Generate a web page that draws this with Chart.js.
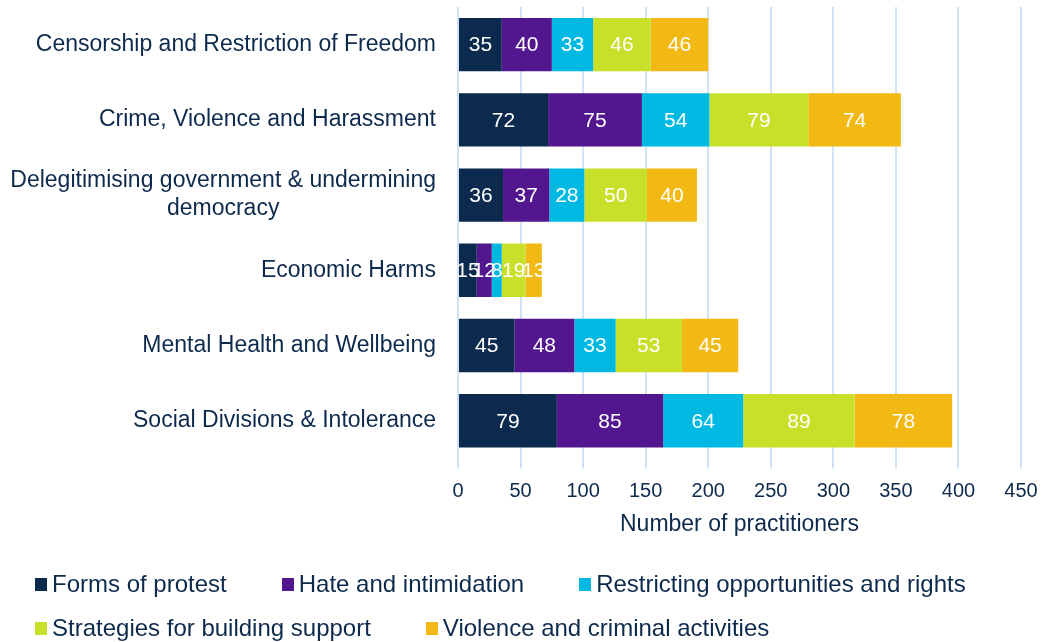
<!DOCTYPE html>
<html><head><meta charset="utf-8">
<script src="https://cdn.jsdelivr.net/npm/chart.js@4/dist/chart.umd.min.js"></script>
<style>
html,body{margin:0;padding:0;background:#fff}
#wrap{width:1053px;height:642px;position:relative;overflow:hidden}
#legend{position:absolute;left:35px;top:562px;width:1010px;display:flex;flex-wrap:wrap;column-gap:55px;font:24px 'Liberation Sans',Arial,sans-serif;color:#0d2a4d;line-height:44px;white-space:nowrap}
#legend .item{display:flex;align-items:center}
#legend .sw{display:inline-block;width:12px;height:13px;margin-right:5px}
</style>
</head><body><div id="wrap"><canvas id="c"></canvas><div id="legend"></div></div>
<script>
const categories = [
  ["Censorship and Restriction of Freedom"],
  ["Crime, Violence and Harassment"],
  ["Delegitimising government & undermining", "democracy"],
  ["Economic Harms"],
  ["Mental Health and Wellbeing"],
  ["Social Divisions & Intolerance"]
];
const seriesNames = ["Forms of protest", "Hate and intimidation", "Restricting opportunities and rights", "Strategies for building support", "Violence and criminal activities"];
const formsOfProtest = [35, 72, 36, 15, 45, 79];
const hateAndIntimidation = [40, 75, 37, 12, 48, 85];
const restrictingOpportunities = [33, 54, 28, 8, 33, 64];
const strategiesForSupport = [46, 79, 50, 19, 53, 89];
const violenceAndCriminal = [46, 74, 40, 13, 45, 78];
const seriesColors = ["#0c2a4d", "#52168f", "#00b9e2", "#c9e02a", "#f2b914"];
const axisTitle = "Number of practitioners";

const FONT = "'Liberation Sans', Arial, sans-serif";
const TXT = "#0d2a4d";
Chart.defaults.font.family = FONT;
Chart.defaults.color = TXT;

const seriesValues = [formsOfProtest, hateAndIntimidation, restrictingOpportunities, strategiesForSupport, violenceAndCriminal];

const barLabels = {
  id: 'barLabels',
  afterDatasetsDraw(chart) {
    const ctx = chart.ctx;
    ctx.save();
    ctx.font = "21px " + FONT;
    ctx.fillStyle = "#ffffff";
    ctx.textAlign = "center";
    ctx.textBaseline = "middle";
    chart.data.datasets.forEach((ds, i) => {
      const meta = chart.getDatasetMeta(i);
      meta.data.forEach((el, j) => {
        const p = el.getProps(['x', 'y', 'base'], true);
        ctx.fillText(String(ds.data[j]), (p.x + p.base) / 2, p.y + 1);
      });
    });
    ctx.restore();
  }
};

const catLabels = {
  id: 'catLabels',
  afterDraw(chart) {
    const ctx = chart.ctx;
    const y = chart.scales.y;
    const right = chart.chartArea.left - 22;
    ctx.save();
    ctx.font = "23px " + FONT;
    ctx.fillStyle = TXT;
    ctx.textAlign = "center";
    ctx.textBaseline = "middle";
    const lh = 28;
    categories.forEach((lines, i) => {
      const cy = y.getPixelForValue(i);
      const w = Math.max(...lines.map(l => ctx.measureText(l).width));
      const cx = right - w / 2;
      const y0 = cy - (lines.length - 1) * lh / 2;
      lines.forEach((l, k) => ctx.fillText(l, cx, y0 + k * lh));
    });
    ctx.restore();
  }
};

const chart = new Chart(document.getElementById('c'), {
  type: 'bar',
  data: {
    labels: categories,
    datasets: seriesNames.map((n, i) => ({
      label: n,
      data: seriesValues[i],
      backgroundColor: seriesColors[i],
      borderWidth: 0,
      categoryPercentage: 1,
      barPercentage: 0.71
    }))
  },
  options: {
    indexAxis: 'y',
    responsive: true,
    maintainAspectRatio: false,
    animation: false,
    layout: { padding: { left: 0, right: 32, top: 7, bottom: 104 } },
    plugins: {
      tooltip: { enabled: false },
      legend: { display: false }
    },
    scales: {
      x: {
        stacked: true, min: 0, max: 450,
        ticks: { stepSize: 50, color: TXT, font: { size: 20 }, padding: 11 },
        grid: { color: '#cfe2f6', lineWidth: 2, tickLength: 10 },
        border: { display: false },
        title: { display: true, text: axisTitle, color: TXT, font: { size: 23 }, padding: { top: -4, bottom: 0 } }
      },
      y: {
        stacked: true,
        ticks: { display: false },
        grid: { display: false },
        border: { display: false },
        afterFit(s) { s.width = 458; }
      }
    }
  },
  plugins: [barLabels, catLabels]
});

const legendEl = document.getElementById('legend');
seriesNames.forEach((n, i) => {
  const item = document.createElement('span');
  item.className = 'item';
  const sw = document.createElement('i');
  sw.className = 'sw';
  sw.style.background = seriesColors[i];
  item.appendChild(sw);
  item.appendChild(document.createTextNode(n));
  legendEl.appendChild(item);
});
</script></body></html>
